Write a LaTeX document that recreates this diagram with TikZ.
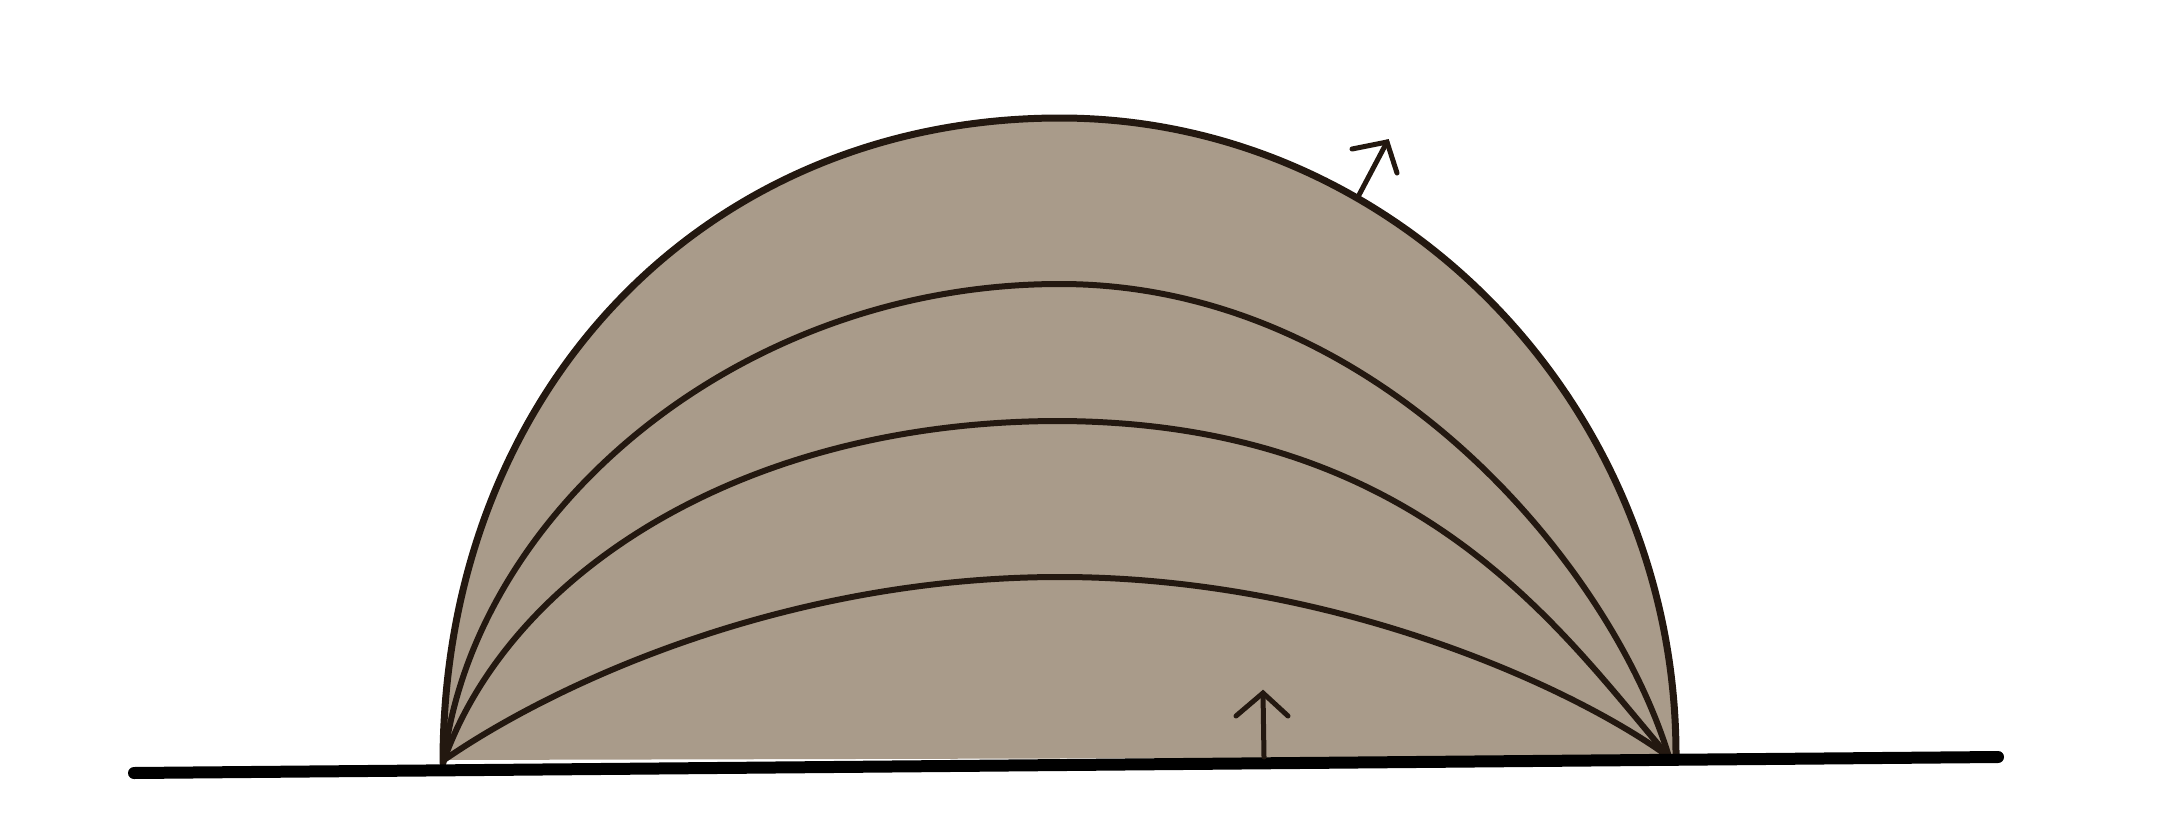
\documentclass[tikz,border=0pt]{standalone}
\definecolor{domefill}{HTML}{A99B8A}
\definecolor{ink}{HTML}{231810}
\tikzset{
  outline/.style={draw=ink, line width=7pt, line join=round, line cap=round},
  arcline/.style={draw=ink, line width=6pt, line cap=round},
  ground/.style={draw=black, line width=12pt, line cap=round},
  vecline/.style={draw=ink, line width=5pt, line join=miter, line cap=round},
}
\begin{document}
\begin{tikzpicture}[x=1pt,y=-1pt]
\path[use as bounding box] (0,0) rectangle (2182,816);
\coordinate (L) at (443,763);
\coordinate (T) at (1060,118);
\coordinate (R) at (1676,755);
\coordinate (Li) at (444,760);
\coordinate (Ri) at (1669,757);
\coordinate (G1) at (134,773);
\coordinate (G2) at (1998,757);
% dome fill and outline
\fill[domefill] (L) .. controls (443,390) and (705,118) .. (T)
  .. controls (1397,118) and (1676,405) .. (R) -- (Ri) -- (Li) -- cycle;
\draw[outline] (L) .. controls (443,390) and (705,118) .. (T)
  .. controls (1397,118) and (1676,405) .. (R);
% inner arcs
\coordinate (T1) at (1060,284);
\coordinate (T2) at (1060,421);
\coordinate (T3) at (1060,577);
\draw[arcline] (Li) .. controls (475,510) and (740,284) .. (T1)
  .. controls (1380,284) and (1612,568) .. (Ri);
\draw[arcline] (Li) .. controls (510,575) and (740,421) .. (T2)
  .. controls (1420,423) and (1560,630) .. (Ri);
\draw[arcline] (Li) .. controls (560,680) and (790,577) .. (T3)
  .. controls (1330,577) and (1570,685) .. (Ri);
% ground
\draw[ground] (G1) -- (G2);
% arrows
\coordinate (a1base) at (1359,195);
\coordinate (a1tip) at (1387,142);
\coordinate (a1l) at (1352,149);
\coordinate (a1r) at (1397,173);
\draw[vecline] (a1base) -- (a1tip);
\draw[vecline] (a1l) -- (a1tip) -- (a1r);
\coordinate (a2base) at (1264,757);
\coordinate (a2tip) at (1263,693);
\coordinate (a2l) at (1236,716);
\coordinate (a2r) at (1288,716);
\draw[vecline] (a2base) -- (a2tip);
\draw[vecline] (a2l) -- (a2tip) -- (a2r);
\end{tikzpicture}
\end{document}
